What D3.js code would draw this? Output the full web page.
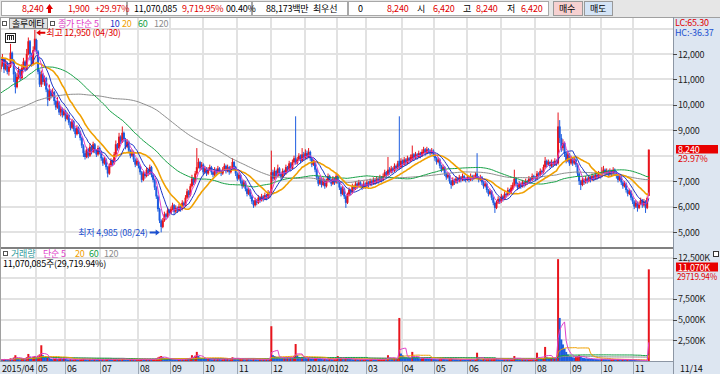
<!DOCTYPE html>
<html>
<head>
<meta charset="utf-8">
<script src="https://cdn.jsdelivr.net/npm/d3@7"></script>
<style>
  body { margin: 0; background: #fff; overflow: hidden; }
  svg text { font-family: "Noto Sans CJK KR", "Noto Sans", sans-serif; font-size: 9px; letter-spacing: -0.2px; }
</style>
</head>
<body>
<script>
const W = 720, H = 374;

// month labels on the date axis and trading days in each month
const monthLabels = ["2015/04","05","06","07","08","09","10","11","12","2016/01","02","03","04","05","06","07","08","09","10","11"];
const monthDays = [22,18,22,23,20,20,21,21,21,20,18,22,20,20,21,21,22,19,20,10];

// closes before 2015/04 (only feed the moving averages)
const priorCloses = [
  8400,8350,8450,8500,8400,8300,8350,8450,8550,8500,8600,8550,8450,8500,8650,8700,8600,8550,8650,8750,
  8700,8600,8650,8750,8800,8700,8650,8750,8850,8800,8700,8750,8650,8600,8700,8800,8750,8650,8700,8800,
  8850,8750,8700,8800,8900,8850,8750,8800,8900,8950,8850,8800,8900,9000,8950,8850,8900,9000,9050,8950,
  9000,8950,9050,9100,9000,8900,8950,9050,9150,9100,9000,8950,9050,9150,9200,9100,9050,9150,9250,9300,
  9400,9550,9700,9850,10000,10150,10300,10200,10350,10500,10650,10600,10750,10900,11000,10850,11000,11150,11300,
  11400,11600,11800,11700,11900,12100,12000,11800,11950,12150,12000,11850,11700,11900,12050,11900,11750,11600,11800,11700
];

// daily OHLC, one line per month
const opens = [
  11400,11600,11800,11400,11650,11300,11500,12050,11750,11200,10700,11100,11350,11050,11450,11700,11400,12000,12500,12000,11600,12150,
  12550,12100,11300,10800,11200,10900,11050,10600,10200,10550,10350,10500,10150,9900,10100,9700,9850,9600,
  9750,9450,9600,9300,9100,9350,9050,8850,9100,8950,8700,8400,8100,7950,8250,8000,8350,8150,8450,8200,8050,8300,
  8150,7900,7700,7850,7550,7300,7600,7800,7700,8050,8450,8300,8750,8550,8900,8650,8350,8550,8200,8000,8150,7850,7650,
  7750,7600,7350,7050,7300,7200,7450,7300,7550,7250,7050,6750,6400,5900,5450,5200,5450,5700,5600,5850,
  5750,5900,6050,5800,5950,5850,6000,5900,6150,6050,6350,6600,6450,6800,7100,6950,7300,7550,7750,7500,
  7650,7350,7500,7300,7450,7550,7350,7250,7450,7350,7500,7400,7300,7450,7600,7400,7550,7350,7500,7750,7550,
  7300,7100,7250,7000,6800,6950,6700,6500,6650,6400,6200,6050,6250,6150,6350,6250,6400,6300,6450,6350,6550,
  6500,7350,7100,7400,7200,7500,7300,7150,7400,7300,7550,7450,7700,7500,7750,7900,7700,7850,8000,7800,8050,
  7900,8100,7950,8150,7900,7650,7750,7450,7150,6900,7100,6850,7050,6800,7000,7200,7050,6900,7100,6950,
  7200,7000,6750,6500,6700,6400,6150,6450,6650,6550,6800,6700,6900,6800,6950,6850,6750,6900,
  6800,6950,6850,7000,6900,7050,6950,7100,7000,7150,7050,7200,7350,7250,7450,7350,7500,7400,7600,7500,7800,7550,
  7800,7650,7850,7700,7900,7800,7850,8050,7900,8050,7950,8100,8000,8100,8250,8100,8250,8200,8100,8200,
  8050,7900,7750,7850,7600,7450,7550,7300,7150,7250,7000,6850,7050,6950,7100,7000,7150,7050,7200,7100,
  7050,7150,7050,7200,7100,7150,7300,7150,7050,7150,6950,6800,6900,6650,6500,6600,6350,6150,5950,6150,6300,
  6200,6400,6300,6500,6450,6650,6550,6700,6850,7100,6900,6750,6900,6800,6950,6850,7000,6950,7100,7050,7200,
  7150,7100,7300,7250,7400,7350,7550,7800,7650,7750,7600,7750,7650,7800,7700,9150,8700,8300,8500,8100,7800,8050,
  7700,7900,7700,7850,7650,7300,7000,6850,7050,6950,7100,7000,7150,7050,7200,7100,7250,7150,7300,
  7200,7350,7450,7300,7400,7250,7400,7300,7450,7350,7200,7050,7150,6950,6800,6900,6650,6500,6600,6350,
  6200,6000,6150,5950,6100,6250,6050,6200,5950,6420
];
const highs = [
  11900,12000,11850,11800,11700,11600,12400,12100,11800,11300,11250,11500,11400,11600,11850,11750,12200,12650,12550,12050,12300,12950,
  12600,12150,11400,11350,11250,11150,11100,10650,10800,10600,10650,10550,10200,10300,10150,9950,9900,9850,
  9800,9700,9650,9350,9450,9400,9100,9200,9150,9000,8750,8450,8200,8350,8300,8500,8400,8550,8500,8250,8400,8350,
  8200,7950,7950,7900,7600,7700,7900,7850,8150,8600,8500,8900,8800,9150,8950,8700,8650,8600,8250,8250,8200,7900,7900,
  7800,7650,7400,7400,7350,7550,7500,7650,7600,7300,7100,6800,6450,5950,5500,5550,5800,5750,5950,5900,
  6000,6150,6100,6050,6000,6100,6050,6250,6200,6450,6700,6650,6900,7250,7150,7400,8300,7900,7800,7750,
  7700,7600,7550,7550,7650,7600,7400,7550,7500,7600,7550,7450,7550,7700,7650,7650,7600,7600,7900,7800,7600,
  7350,7350,7300,7050,7050,7000,6750,6750,6700,6450,6250,6350,6300,6450,6400,6500,6450,6550,6500,6650,6600,
  8200,7450,7550,7450,7650,7550,7350,7500,7450,7650,7600,7800,7750,7850,8000,9550,7950,8100,8050,8300,8150,
  8250,8200,8300,8200,7950,7850,7800,7500,7200,7200,7150,7150,7100,7100,7300,7250,7100,7200,7150,7300,
  7250,7050,6800,6800,6750,6450,6550,6750,6700,6900,6850,7000,6950,7050,7000,6900,7000,6950,
  7050,7000,7100,7050,7150,7100,7200,7150,7250,7200,7300,7450,7400,7950,7550,7600,7550,7700,7650,7800,9550,7900,
  7850,7950,7900,8000,7950,8050,8400,8100,8150,8100,8200,8150,8250,8350,8300,8350,8300,8250,8300,8250,
  8100,7950,7950,7900,7650,7650,7600,7350,7350,7300,7050,7150,7100,7200,7150,7250,7200,7300,7250,7150,
  7250,7200,7300,7250,7250,7350,8100,7200,7250,7200,7000,7000,6950,6700,6700,6650,6400,6200,6250,6400,6350,
  6500,6450,6600,6550,6750,6700,6850,6950,7450,7150,6950,7000,6950,7050,7000,7100,7050,7200,7150,7300,7250,
  7200,7400,7350,7500,7450,7650,7950,7850,7850,7800,7850,7800,7900,7850,9700,9400,8850,8650,8550,8150,8150,8100,
  8000,7950,7950,7900,7700,7350,7050,7150,7100,7200,7150,7250,7200,7300,7250,7350,7300,7400,7350,
  7550,7600,7500,7500,7450,7500,7450,7550,7500,7400,7250,7250,7200,7000,7000,6950,6700,6700,6650,6400,
  6250,6250,6200,6200,6350,6300,6300,6250,6400,8240
];
const lows = [
  11300,11500,11250,11350,11200,11150,11450,11600,10900,10450,10650,11000,10950,11000,11400,11300,11350,11950,11750,11500,11550,12100,
  12000,11200,10700,10700,10800,10750,10500,9950,10150,10250,10300,10000,9800,9850,9600,9550,9500,9550,
  9350,9400,9200,9000,9050,8950,8700,8800,8850,8600,8300,7950,7850,7900,7900,7950,8050,8100,8100,7950,8000,8050,
  7800,7600,7650,7450,7150,7250,7550,7600,7650,8000,8200,8250,8450,8500,8550,8250,8300,8100,7900,7950,7750,7550,7600,
  7500,7250,6950,7000,7100,7150,7200,7250,7150,6950,6650,6300,5800,5350,4985,5150,5400,5500,5550,5650,
  5700,5850,5700,5750,5750,5800,5800,5850,5950,6000,6300,6350,6400,6750,6850,6900,7250,7500,7400,7450,
  7250,7300,7200,7250,7400,7250,7150,7200,7250,7300,7300,7200,7250,7400,7300,7350,7250,7300,7450,7450,7200,
  7000,7050,6900,6700,6750,6600,6400,6450,6300,6100,5950,6000,6050,6100,6150,6200,6200,6250,6250,6300,6350,
  6450,7000,7050,7100,7150,7200,7050,7100,7200,7250,7350,7400,7400,7450,7700,7650,7650,7800,7700,7750,7800,
  7850,7850,7900,7800,7550,7600,7350,7050,6800,6850,6750,6800,6700,6750,6950,6950,6800,6850,6850,6900,
  6900,6650,6400,6450,6300,5950,6100,6400,6450,6500,6600,6650,6700,6750,6750,6650,6700,6700,
  6750,6750,6800,6800,6850,6850,6900,6900,6950,6950,7000,7150,7150,7200,7250,7300,7300,7350,7400,7450,7450,7500,
  7550,7600,7600,7650,7700,7750,7800,7800,7850,7850,7900,7900,7950,8050,8000,8050,8100,8000,8050,7950,
  7800,7650,7700,7500,7350,7400,7200,7050,7100,6900,6700,6800,6850,6900,6900,6950,6950,7000,7000,6950,
  7000,6950,7000,7000,7050,7100,7100,6950,7000,6850,6700,6750,6550,6400,6450,6250,6050,5750,5900,6100,6100,
  6150,6200,6250,6350,6400,6450,6500,6650,6800,6800,6650,6700,6700,6750,6750,6800,6850,6900,6950,7000,7050,
  7000,7050,7150,7200,7250,7300,7500,7550,7600,7500,7550,7550,7600,7600,7650,8500,8150,8200,7950,7700,7750,7600,
  7650,7600,7650,7550,7200,6850,6650,6800,6850,6900,6900,6950,6950,7000,7000,7050,7050,7100,7100,
  7150,7300,7200,7250,7150,7200,7200,7250,7250,7100,6950,7000,6850,6700,6750,6550,6400,6450,6250,6100,
  5900,5950,5800,5900,6050,5950,6000,5750,5900,6420
];
const closes = [
  11600,11800,11400,11650,11300,11500,12050,11750,11200,10700,11100,11350,11050,11450,11700,11400,12000,12500,12000,11600,12150,12600,
  12100,11300,10800,11200,10900,11050,10600,10200,10550,10350,10500,10150,9900,10100,9700,9850,9600,9750,
  9450,9600,9300,9100,9350,9050,8850,9100,8950,8700,8400,8100,7950,8250,8000,8350,8150,8450,8200,8050,8300,8150,
  7900,7700,7850,7550,7300,7600,7800,7700,8050,8450,8300,8750,8550,8900,8650,8350,8550,8200,8000,8150,7850,7650,7800,
  7600,7350,7050,7300,7200,7450,7300,7550,7250,7050,6750,6400,5900,5450,5200,5450,5700,5600,5850,5750,
  5900,6050,5800,5950,5850,6000,5900,6150,6050,6350,6600,6450,6800,7100,6950,7300,7550,7750,7500,7650,
  7350,7500,7300,7450,7550,7350,7250,7450,7350,7500,7400,7300,7450,7600,7400,7550,7350,7500,7750,7550,7300,
  7100,7250,7000,6800,6950,6700,6500,6650,6400,6200,6050,6250,6150,6350,6250,6400,6300,6450,6350,6550,6450,
  7350,7100,7400,7200,7500,7300,7150,7400,7300,7550,7450,7700,7500,7750,7900,7700,7850,8000,7800,8050,7900,
  8100,7950,8150,7900,7650,7750,7450,7150,6900,7100,6850,7050,6800,7000,7200,7050,6900,7100,6950,7200,
  7000,6750,6500,6700,6400,6150,6450,6650,6550,6800,6700,6900,6800,6950,6850,6750,6900,6800,
  6950,6850,7000,6900,7050,6950,7100,7000,7150,7050,7200,7350,7250,7450,7350,7500,7400,7600,7500,7700,7550,7800,
  7650,7850,7700,7900,7800,7950,8050,7900,8050,7950,8100,8000,8150,8250,8100,8250,8200,8100,8200,8050,
  7900,7750,7850,7600,7450,7550,7300,7150,7250,7000,6850,7050,6950,7100,7000,7150,7050,7200,7100,7050,
  7150,7050,7200,7100,7150,7250,7150,7050,7150,6950,6800,6900,6650,6500,6600,6350,6150,5950,6150,6300,6200,
  6400,6300,6500,6450,6650,6550,6750,6850,7100,6900,6750,6900,6800,6950,6850,7000,6950,7100,7050,7200,7150,
  7100,7300,7250,7400,7350,7550,7800,7650,7750,7600,7750,7650,7800,7700,9150,8700,8300,8500,8100,7800,8050,7700,
  7900,7700,7850,7650,7300,7000,6850,7050,6950,7100,7000,7150,7050,7200,7100,7250,7150,7300,7200,
  7350,7450,7300,7400,7250,7400,7300,7450,7350,7200,7050,7150,6950,6800,6900,6650,6500,6600,6350,6200,
  6000,6150,5950,6100,6250,6050,6200,5950,6340,8240
];
// daily volume, thousands of shares
const volumesK = [
  180,150,220,160,140,130,320,250,420,700,380,260,200,240,310,220,450,850,520,300,480,600,
  500,650,800,1900,700,450,380,420,350,260,220,240,300,250,280,320,260,380,
  250,200,180,220,170,190,230,180,160,200,240,280,220,190,170,200,160,150,230,180,140,160,
  150,170,140,200,260,220,180,150,210,280,230,260,200,300,240,190,170,160,180,150,170,140,160,
  180,200,260,210,170,190,160,220,180,200,250,300,420,520,600,450,380,300,260,240,
  220,200,180,170,160,190,170,210,180,250,320,260,380,700,500,650,1100,600,400,350,
  300,260,240,280,250,220,200,230,210,260,240,200,220,280,230,250,210,240,450,380,300,
  260,240,280,300,240,220,260,250,230,200,280,220,200,190,210,180,200,190,220,210,240,
  4200,700,600,500,450,400,380,350,420,380,450,400,500,420,600,2050,700,500,450,500,400,
  380,320,360,300,280,260,300,320,280,260,240,220,250,230,210,240,220,200,230,260,
  600,280,320,260,240,380,300,260,240,220,200,230,210,190,200,180,190,210,
  200,180,190,210,200,180,170,190,200,210,220,240,230,700,400,300,280,320,300,360,5200,900,
  700,500,450,400,380,350,1100,500,420,380,340,300,320,350,300,280,260,250,270,240,
  230,220,210,260,280,240,230,220,210,260,300,240,220,210,200,190,210,200,190,180,
  170,160,180,170,160,200,1000,300,220,200,240,230,260,280,220,240,260,300,250,220,200,
  190,180,200,190,210,200,230,260,600,300,240,220,200,210,190,200,180,190,200,210,190,
  200,1000,400,350,300,380,1700,500,400,350,380,320,360,340,12300,5200,2600,2000,1500,1100,800,600,
  500,450,400,500,600,700,500,400,350,320,300,280,260,250,240,230,220,210,200,
  250,230,220,210,200,190,200,210,190,180,200,190,170,180,160,150,170,160,150,140,
  130,110,100,90,80,70,60,50,37.25,11070.085
];

const priceGrid = [5000,6000,7000,8000,9000,10000,11000,12000,13000];
const priceLabels = [5000,6000,7000,9000,10000,11000,12000];
const volGrid = [2500,5000,7500,10000,12500];
const volLabels = [2500,5000,7500,12500];
const maPeriods = [5,10,20,60,120];
const maColors = ["#e040c8","#1a34c8","#f0a000","#14a044","#8c8c8c"];
const volMaPeriods = [5,20,60,120];
const volMaColors = ["#e040c8","#f0a000","#14a044","#8c8c8c"];
const volRatioText = "29719.94%";

const RED = "#e8141c", BLUE = "#1c5ce0";
const plotR = 673;
const priceTop = 18, priceBottom = 247, volTop = 249, volBottom = 361, axisTop = 362;

const svg = d3.select("body").append("svg").attr("width", W).attr("height", H);

const days = d3.range(closes.length);
const monthStart = [];
monthDays.reduce((acc, n) => { monthStart.push(acc); return acc + n; }, 0);

const x = d3.scaleLinear().domain([0, days.length - 1]).range([0.8, 648.8]);
const y = d3.scaleLinear().domain([5000, 12000]).range([232, 54]);
const yv = d3.scaleLinear().domain([0, 12500]).range([volBottom, 257.5]);

function movingAvg(series, n, offset) {
  return days.map(i => {
    const g = i + offset;
    return d3.mean(series.slice(Math.max(0, g - n + 1), g + 1));
  });
}
const allCloses = priorCloses.concat(closes);
const maPrice = maPeriods.map(n => movingAvg(allCloses, n, priorCloses.length));
const maVol = volMaPeriods.map(n => movingAvg(volumesK, n, 0));
const fmt = d3.format(",");

// backgrounds
svg.append("rect").attr("width", W).attr("height", H).attr("fill", "#fff");
svg.append("rect").attr("x", plotR).attr("y", 17).attr("width", W - plotR).attr("height", H - 17).attr("fill", "#dde6f1");
svg.append("rect").attr("x", 0).attr("y", axisTop).attr("width", plotR).attr("height", H - axisTop).attr("fill", "#dde6f1");

// grid
const grid = svg.append("g").attr("stroke", "#e2e2e2").attr("stroke-width", 2).attr("shape-rendering", "crispEdges");
grid.selectAll("line.pg").data(priceGrid).join("line")
  .attr("x1", 0).attr("x2", plotR).attr("y1", d => Math.round(y(d))).attr("y2", d => Math.round(y(d)));
grid.selectAll("line.vg").data(volGrid).join("line")
  .attr("x1", 0).attr("x2", plotR).attr("y1", d => Math.round(yv(d))).attr("y2", d => Math.round(yv(d)));
const monthX = monthStart.map(s => Math.round(x(s) - 0.8));
grid.selectAll("line.mg").data(monthX.slice(1)).join("line")
  .attr("x1", d => d).attr("x2", d => d).attr("y1", priceTop).attr("y2", volBottom);
svg.append("g").attr("stroke", "#9aa6b4").attr("shape-rendering", "crispEdges")
  .selectAll("line").data(monthX.slice(1)).join("line")
  .attr("x1", d => d + 0.5).attr("x2", d => d + 0.5).attr("y1", axisTop).attr("y2", H);

// clip paths
const defs = svg.append("defs");
defs.append("clipPath").attr("id", "cp").append("rect")
  .attr("x", 0).attr("y", priceTop).attr("width", plotR).attr("height", priceBottom - priceTop);
defs.append("clipPath").attr("id", "cv").append("rect")
  .attr("x", 0).attr("y", volTop).attr("width", plotR).attr("height", volBottom - volTop + 1);

// candles
const colorOf = i => closes[i] >= opens[i] ? RED : BLUE;
const cg = svg.append("g").attr("clip-path", "url(#cp)");
cg.selectAll("line").data(days).join("line")
  .attr("x1", i => x(i)).attr("x2", i => x(i))
  .attr("y1", i => y(highs[i])).attr("y2", i => y(lows[i]))
  .attr("stroke", colorOf).attr("stroke-width", 1);
cg.selectAll("rect").data(days).join("rect")
  .attr("x", i => x(i) - 1).attr("width", 2)
  .attr("y", i => y(Math.max(opens[i], closes[i])))
  .attr("height", i => Math.max(1, Math.abs(y(opens[i]) - y(closes[i]))))
  .attr("fill", colorOf);

// moving averages (price)
const priceLine = d3.line().x((d, i) => x(i)).y(d => y(d));
[4, 3, 2, 1, 0].forEach(k => {
  cg.append("path").attr("d", priceLine(maPrice[k])).attr("fill", "none")
    .attr("stroke", maColors[k]).attr("stroke-width", k === 2 ? 1.6 : 1);
});

// volume bars, red when volume rose against the day before
const vg = svg.append("g").attr("clip-path", "url(#cv)");
vg.selectAll("rect").data(days).join("rect")
  .attr("x", i => x(i) - 1).attr("width", 2)
  .attr("y", i => yv(volumesK[i]))
  .attr("height", i => Math.max(1, volBottom - yv(volumesK[i])))
  .attr("fill", i => (i === 0 || volumesK[i] >= volumesK[i - 1]) ? RED : BLUE);
const volLine = d3.line().x((d, i) => x(i)).y(d => Math.min(volBottom - 0.5, yv(d)));
[3, 2, 1, 0].forEach(k => {
  vg.append("path").attr("d", volLine(maVol[k])).attr("fill", "none")
    .attr("stroke", volMaColors[k]).attr("stroke-width", 1);
});

// panel borders
const border = svg.append("g").attr("shape-rendering", "crispEdges");
border.append("line").attr("x1", 0).attr("x2", W).attr("y1", 17.5).attr("y2", 17.5).attr("stroke", "#a0a0a0");
border.append("line").attr("x1", 0).attr("x2", plotR).attr("y1", 248).attr("y2", 248).attr("stroke", "#808080").attr("stroke-width", 2);
border.append("line").attr("x1", 0).attr("x2", plotR).attr("y1", volBottom + 0.5).attr("y2", volBottom + 0.5).attr("stroke", "#8c96a4");
border.append("line").attr("x1", plotR + 0.5).attr("x2", plotR + 0.5).attr("y1", 17).attr("y2", H).attr("stroke", "#8c96a4");
border.append("line").attr("x1", 0.5).attr("x2", 0.5).attr("y1", 17).attr("y2", axisTop).attr("stroke", "#a0a0a0");

// right axis: price and volume
const ax = svg.append("g");
ax.selectAll("line.pt").data(priceLabels).join("line")
  .attr("x1", plotR).attr("x2", plotR + 4).attr("y1", d => Math.round(y(d)) + 0.5).attr("y2", d => Math.round(y(d)) + 0.5)
  .attr("stroke", "#444");
ax.selectAll("text.pt").data(priceLabels).join("text")
  .attr("x", plotR + 5).attr("y", d => y(d) + 3.5).attr("fill", "#222").text(d => fmt(d));
ax.selectAll("line.vt").data(volLabels).join("line")
  .attr("x1", plotR).attr("x2", plotR + 4).attr("y1", d => Math.round(yv(d)) + 0.5).attr("y2", d => Math.round(yv(d)) + 0.5)
  .attr("stroke", "#444");
ax.selectAll("text.vt").data(volLabels).join("text")
  .attr("x", plotR + 5).attr("y", d => yv(d) + 3.5).attr("fill", "#222").text(d => fmt(d) + "K");

const last = days.length - 1;
const chgPct = (closes[last] - closes[last - 1]) / closes[last - 1] * 100;
ax.append("rect").attr("x", 676).attr("y", 145).attr("width", 42).attr("height", 8.5).attr("fill", "#e80000");
ax.append("text").attr("x", 678).attr("y", 152.5).attr("fill", "#fff").text(fmt(closes[last]));
ax.append("text").attr("x", 678).attr("y", 162).attr("fill", "#e00000").text(chgPct.toFixed(2) + "%");
ax.append("rect").attr("x", 676).attr("y", 262.5).attr("width", 42).attr("height", 9).attr("fill", "#e80000");
ax.append("text").attr("x", 678).attr("y", 270.5).attr("fill", "#fff").text(fmt(Math.round(volumesK[last])) + "K");
ax.append("text").attr("x", 677).attr("y", 280).attr("fill", "#e00000")
  .attr("textLength", 40).attr("lengthAdjust", "spacingAndGlyphs").text(volRatioText);
ax.append("rect").attr("x", 713.5).attr("y", 251.5).attr("width", 5).attr("height", 5).attr("fill", "#fff").attr("stroke", "#333");
ax.append("text").attr("x", 675).attr("y", 25.5).attr("fill", "#e00000").text("LC:65.30");
ax.append("text").attr("x", 675).attr("y", 35.5).attr("fill", "#1c50d0").text("HC:-36.37");

// date axis
svg.append("g").selectAll("text").data(monthLabels).join("text")
  .attr("x", (d, k) => monthX[k] + 2).attr("y", 372).attr("fill", "#111").text(d => d);
svg.append("text").attr("x", 680).attr("y", 372).attr("fill", "#111").text("11/14");

// legends
function box(g, bx, by) {
  g.append("rect").attr("x", bx + 0.5).attr("y", by + 0.5).attr("width", 4).attr("height", 4)
    .attr("fill", "#fff").attr("stroke", "#555");
}
const lg = svg.append("g");
box(lg, 2, 21);
lg.append("rect").attr("x", 9.5).attr("y", 18.5).attr("width", 38).attr("height", 10).attr("fill", "#e4e4e4").attr("stroke", "#888");
lg.append("text").attr("x", 12).attr("y", 27).attr("fill", "#000").text("솔루에타");
box(lg, 50, 21);
const legendItems = [["종가 단순 5", 58], ["10", 110], ["20", 122], ["60", 138], ["120", 154]];
legendItems.forEach(([t, lx], k) => lg.append("text").attr("x", lx).attr("y", 27).attr("fill", maColors[k]).text(t));
box(lg, 3, 251);
lg.append("text").attr("x", 11).attr("y", 256.5).attr("fill", "#2e9a9a").text("거래량");
const volLegend = [["단순 5", 43], ["20", 75], ["60", 89], ["120", 104]];
volLegend.forEach(([t, lx], k) => lg.append("text").attr("x", lx).attr("y", 256.5).attr("fill", volMaColors[k]).text(t));
lg.append("text").attr("x", 3).attr("y", 266.5).attr("fill", "#000")
  .text(fmt(Math.round(volumesK[last] * 1000)) + "주(29,719.94%)");

// chart tool icon
lg.append("rect").attr("x", 5.5).attr("y", 33.5).attr("width", 10).attr("height", 9).attr("fill", "#fff").attr("stroke", "#222");
[7.5, 9.5, 11.5, 13.5].forEach(ix => lg.append("line").attr("x1", ix).attr("x2", ix).attr("y1", 36).attr("y2", 40).attr("stroke", "#222"));
lg.append("line").attr("x1", 7).attr("x2", 14).attr("y1", 35.5).attr("y2", 35.5).attr("stroke", "#222");

// high / low notes
const hi = d3.maxIndex(highs), lo = d3.minIndex(lows);
const hx = x(hi) + 1.5, hy = y(highs[hi]) + 3;
lg.append("path").attr("d", `M${hx},${hy} l4,-3 v2 h5 v2 h-5 v2 z`).attr("fill", "#e00000");
lg.append("text").attr("x", hx + 10).attr("y", hy + 3.5).attr("fill", "#e00000")
  .text("최고 " + fmt(highs[hi]) + " (04/30)");
const lx = x(lo) - 1.5, ly = y(lows[lo]);
lg.append("path").attr("d", `M${lx},${ly} l-4,-3 v2 h-6 v2 h6 v2 z`).attr("fill", "#1c50d0");
lg.append("text").attr("x", lx - 12).attr("y", ly + 3.5).attr("fill", "#1c50d0").attr("text-anchor", "end")
  .text("최저 " + fmt(lows[lo]) + " (08/24)");

// top quote bar
const tb = svg.append("g");
tb.append("rect").attr("width", W).attr("height", 17).attr("fill", "#e6e6e6");
[[1, 126], [127, 125], [252, 96], [348, 201]].forEach(([bx, bw]) =>
  tb.append("rect").attr("x", bx + 0.5).attr("y", 1.5).attr("width", bw - 1).attr("height", 14)
    .attr("fill", "#fff").attr("stroke", "#a8a8a8"));
tb.append("rect").attr("x", 553.5).attr("y", 1.5).attr("width", 29).attr("height", 14).attr("fill", "#f6d0d0").attr("stroke", "#999");
tb.append("rect").attr("x", 584.5).attr("y", 1.5).attr("width", 28).attr("height", 14).attr("fill", "#d4e4f6").attr("stroke", "#999");
const prevClose = closes[last - 1];
const topTexts = [
  [fmt(closes[last]), 22, "#e00000"],
  [fmt(closes[last] - prevClose), 68, "#e00000"],
  ["+" + chgPct.toFixed(2) + "%", 95, "#e00000"],
  [fmt(Math.round(volumesK[last] * 1000)), 134, "#000"],
  ["9,719.95%", 182, "#e00000"],
  ["00.40%", 226, "#000"],
  ["88,173백만", 266, "#000"],
  ["최우선", 313, "#000"],
  ["0", 358, "#000"],
  [fmt(closes[last]), 387, "#e00000"],
  ["시", 417, "#000"],
  [fmt(opens[last]), 433, "#e00000"],
  ["고", 463, "#000"],
  [fmt(highs[last]), 476, "#e00000"],
  ["저", 507, "#000"],
  [fmt(lows[last]), 521, "#e00000"],
  ["매수", 559, "#000"],
  ["매도", 590, "#000"]
];
topTexts.forEach(([t, tx, c]) => tb.append("text").attr("x", tx).attr("y", 12).attr("fill", c).text(t));
tb.append("path").attr("d", "M46,9 l3.5,-5 l3.5,5 h-2 v4 h-3 v-4 z").attr("fill", "#e00000");
</script>
</body>
</html>
